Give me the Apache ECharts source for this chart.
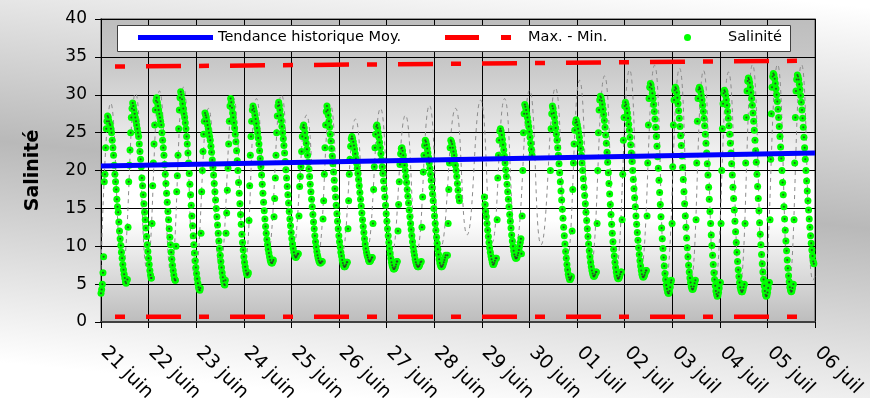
<!DOCTYPE html>
<html>
<head>
<meta charset="utf-8">
<script src="https://cdn.jsdelivr.net/npm/echarts@6/dist/echarts.min.js"></script>
<style>
  html, body { margin: 0; padding: 0; background: #ffffff; }
  #chart { width: 870px; height: 398px; }
</style>
</head>
<body>
<div id="chart"></div>
<script>
// Day ticks on the time axis (x = days since 21 June, 00:00)
const dayLabels = ['21 juin', '22 juin', '23 juin', '24 juin', '25 juin', '26 juin', '27 juin',
  '28 juin', '29 juin', '30 juin', '01 juil', '02 juil', '03 juil', '04 juil', '05 juil', '06 juil'];

// Historical mean trend
const trendDays = [0, 15];
const trendValues = [20.6, 22.3];

// Historical envelope
const envelopeDays = [0, 15];
const maxValues = [33.7, 34.5];
const minValues = [0.7, 0.7];

// Tidal reference curve: turning points (hours since 21 June 00:00, salinity)
const modelHours = [0, 4.9, 10.8, 17.4, 23.2, 29.5, 35.3, 41.6, 47.4, 54.2, 60.0, 66.8, 72.6,
  78.4, 84.2, 91.0, 96.8, 103.6, 109.4, 115.7, 121.5, 128.3, 134.1, 140.9, 146.7, 153.5, 159.3,
  165.6, 171.4, 178.8, 184.6, 191.4, 197.2, 203.5, 209.3, 216.1, 221.9, 229.1, 234.9, 241.3, 247.1,
  253.9, 259.7, 266.5, 272.3, 279.1, 284.9, 291.7, 297.5, 303.8, 309.6, 316.4, 322.2, 328.5, 334.3,
  341.1, 346.9, 353.2, 359.0, 360];
const modelValues = [7.0, 28.9, 7.0, 30.2, 7.0, 30.5, 6.5, 31.0, 6.0, 28.2, 7.0, 29.6, 8.0,
  29.5, 9.0, 30.0, 9.5, 27.3, 9.0, 28.6, 9.0, 26.8, 9.5, 28.2, 9.0, 27.3, 9.5,
  28.6, 10.0, 28.2, 11.5, 29.3, 10.5, 29.5, 10.5, 30.6, 10.2, 30.9, 8.0, 31.9, 7.5,
  32.5, 7.0, 33.3, 7.0, 33.9, 5.5, 33.5, 5.5, 33.2, 5.0, 33.0, 5.0, 34.0, 5.0,
  34.0, 5.0, 34.0, 5.5, 6.0];

// Measured salinity, one reading every 20 minutes, grouped by tide
// (start hour of each group, then its readings)
const SAMPLE_HOURS = 1 / 3;
const cycleStartHours = [0, 13.3, 25.4, 37.5, 50.1, 62.7, 74.3, 86.9, 99.5, 111.6, 124.2, 136.8,
  149.4, 161.5, 174.7, 193.3, 199.4, 212.0, 226.6, 237.2, 249.8, 262.4, 275.0, 287.6, 299.7,
  312.3, 324.4, 337.0, 349.1];
const cycleValues = [
  [3.8, 4.3, 5.0, 6.5, 8.6, 18.5, 19.5, 23.0, 25.5, 26.5, 27.2, 27.0, 26.5, 26.2, 26.0, 25.5, 25.0, 24.0, 23.0, 22.0, 20.7, 19.5, 18.5, 17.5, 16.2, 15.2, 14.5, 13.2, 12.0, 11.0, 10.1, 9.2, 8.4, 7.6, 6.9, 6.3, 5.8, 5.3, 5.1],
  [5.6, 12.5, 18.5, 20.7, 22.7, 25.0, 27.0, 28.2, 28.9, 28.5, 28.0, 27.5, 27.0, 26.5, 26.0, 25.5, 25.0, 24.5, 23.5, 22.5, 21.5, 20.5, 19.0, 18.0, 16.8, 15.6, 14.5, 13.5, 12.4, 11.3, 10.2, 9.3, 8.4, 7.6, 6.8, 6.2, 5.8],
  [5.8, 13.0, 18.0, 21.0, 23.5, 26.0, 28.0, 29.2, 29.6, 29.0, 28.5, 28.0, 27.5, 27.0, 26.5, 26.0, 25.0, 24.0, 23.0, 22.0, 20.8, 19.5, 18.3, 17.0, 15.8, 14.6, 13.5, 12.3, 11.2, 10.2, 9.2, 8.3, 7.5, 6.8, 6.2, 5.7, 5.5],
  [5.5, 10.0, 17.2, 19.3, 22.0, 25.5, 28.0, 29.6, 30.4, 30.0, 29.4, 28.8, 28.2, 27.5, 27.0, 26.3, 25.5, 24.5, 23.5, 22.3, 21.0, 19.6, 18.2, 16.8, 15.4, 14.0, 12.7, 11.4, 10.2, 9.1, 8.1, 7.2, 6.4, 5.7, 5.1, 4.6, 4.3, 4.2],
  [4.5, 11.7, 17.2, 20.0, 22.5, 24.8, 26.5, 27.6, 27.3, 27.0, 26.5, 26.0, 25.5, 25.0, 24.5, 24.0, 23.2, 22.4, 21.4, 20.4, 19.4, 18.3, 17.2, 16.1, 15.0, 13.9, 12.8, 11.7, 10.7, 9.7, 8.8, 8.0, 7.2, 6.5, 5.9, 5.4, 5.0, 4.9],
  [5.5, 11.7, 14.4, 17.4, 20.3, 23.5, 26.5, 28.5, 29.5, 29.0, 28.3, 27.6, 27.0, 26.3, 25.6, 24.8, 23.8, 22.6, 21.3, 20.0, 18.4, 17.0, 15.6, 14.2, 12.9, 11.6, 10.5, 9.5, 8.6, 7.9, 7.3, 6.8, 6.4, 6.2, 6.3],
  [6.5, 13.4, 18.0, 22.0, 24.5, 26.5, 28.0, 28.5, 28.2, 27.8, 27.3, 26.8, 26.2, 25.6, 25.0, 24.3, 23.5, 22.6, 21.6, 20.5, 19.4, 18.2, 17.0, 15.8, 14.7, 13.6, 12.6, 11.7, 10.9, 10.2, 9.6, 9.1, 8.6, 8.2, 7.9, 7.8, 7.8, 8.0],
  [8.2, 13.9, 16.3, 19.0, 22.0, 25.0, 27.2, 28.5, 29.0, 28.6, 28.0, 27.3, 26.6, 25.8, 25.0, 24.2, 23.3, 22.3, 21.2, 20.1, 19.0, 17.9, 16.8, 15.7, 14.6, 13.6, 12.7, 11.8, 11.0, 10.3, 9.7, 9.2, 8.8, 8.6, 8.5, 8.6, 8.8, 9.0],
  [9.0, 14.0, 17.9, 19.2, 20.5, 22.5, 24.5, 25.7, 26.0, 25.6, 25.0, 24.3, 23.6, 22.8, 22.0, 21.1, 20.2, 19.2, 18.2, 17.2, 16.2, 15.2, 14.2, 13.2, 12.3, 11.4, 10.6, 9.9, 9.3, 8.8, 8.4, 8.1, 7.9, 7.8, 7.8, 8.0],
  [8.0, 13.6, 16.0, 19.5, 23.0, 26.0, 27.8, 28.5, 28.0, 27.3, 26.5, 25.7, 24.8, 23.9, 22.9, 21.9, 20.9, 19.8, 18.7, 17.6, 16.5, 15.4, 14.3, 13.3, 12.3, 11.4, 10.6, 9.9, 9.2, 8.7, 8.2, 7.8, 7.5, 7.3, 7.3, 7.4, 7.6, 7.9],
  [7.9, 12.3, 16.0, 19.5, 21.5, 23.2, 24.2, 24.5, 24.2, 23.8, 23.3, 22.8, 22.2, 21.6, 21.0, 20.3, 19.6, 18.8, 18.0, 17.1, 16.2, 15.3, 14.4, 13.5, 12.6, 11.8, 11.0, 10.3, 9.7, 9.2, 8.8, 8.5, 8.2, 8.0, 8.0, 8.1, 8.3, 8.5],
  [8.5, 13.0, 17.5, 20.5, 23.0, 24.8, 25.8, 26.0, 25.6, 25.0, 24.4, 23.7, 23.0, 22.2, 21.4, 20.5, 19.6, 18.6, 17.6, 16.5, 15.4, 14.3, 13.3, 12.3, 11.4, 10.5, 9.7, 9.0, 8.4, 7.9, 7.5, 7.2, 7.0, 7.0, 7.1, 7.3, 7.6, 8.0],
  [8.0, 12.0, 15.5, 18.5, 20.8, 22.2, 22.9, 23.0, 22.6, 22.0, 21.4, 20.7, 20.0, 19.2, 18.4, 17.5, 16.6, 15.7, 14.8, 13.9, 13.0, 12.2, 11.4, 10.6, 9.9, 9.3, 8.8, 8.3, 7.9, 7.6, 7.4, 7.3, 7.3, 7.4, 7.6, 7.9],
  [8.0, 12.5, 16.5, 19.8, 22.0, 23.3, 24.0, 23.8, 23.4, 22.9, 22.3, 21.7, 21.0, 20.3, 19.5, 18.7, 17.8, 16.9, 16.0, 15.0, 14.0, 13.0, 12.1, 11.2, 10.4, 9.6, 8.9, 8.3, 7.8, 7.5, 7.3, 7.3, 7.4, 7.6, 7.9, 8.2, 8.5, 8.8],
  [8.8, 13.0, 17.5, 21.0, 23.0, 24.0, 23.8, 23.5, 23.0, 22.5, 22.0, 21.4, 20.7, 20.0, 19.2, 18.3, 17.4, 16.5, 16.0],
  [16.5, 15.5, 14.6, 13.9, 13.0, 12.1, 11.3, 10.5, 9.8, 9.2, 8.7, 8.3, 7.9, 7.6, 7.6, 7.8, 8.1, 8.4],
  [8.4, 13.5, 19.0, 22.0, 24.0, 25.2, 25.5, 25.2, 24.7, 24.1, 23.4, 22.7, 21.9, 21.0, 20.1, 19.2, 18.2, 17.2, 16.2, 15.2, 14.2, 13.3, 12.4, 11.5, 10.7, 10.0, 9.4, 8.9, 8.6, 8.4, 8.4, 8.5, 8.8, 9.1, 9.5, 10.0, 10.5, 11.0],
  [9.0, 14.0, 20.0, 25.0, 27.5, 28.7, 28.4, 28.0, 27.5, 27.0, 26.4, 25.8, 25.1, 24.4, 23.6, 22.8, 22.0],
  [20.0, 25.5, 27.5, 28.5, 28.2, 27.6, 27.0, 26.3, 25.6, 24.8, 24.0, 23.0, 22.0, 20.9, 19.7, 18.5, 17.3, 16.1, 14.9, 13.7, 12.5, 11.4, 10.3, 9.3, 8.4, 7.6, 6.9, 6.3, 5.9, 5.6, 5.6, 5.8],
  [6.0, 12.0, 17.5, 21.0, 23.5, 25.3, 26.3, 26.7, 26.4, 26.0, 25.5, 25.0, 24.4, 23.7, 22.9, 22.0, 21.0, 20.0, 18.9, 17.8, 16.7, 15.6, 14.5, 13.4, 12.3, 11.3, 10.3, 9.4, 8.6, 7.9, 7.3, 6.8, 6.4, 6.1, 6.0, 6.1, 6.3, 6.6],
  [6.6, 13.0, 20.0, 25.0, 28.0, 29.3, 29.8, 29.6, 29.2, 28.7, 28.1, 27.4, 26.6, 25.7, 24.7, 23.6, 22.4, 21.1, 19.7, 18.3, 16.9, 15.5, 14.2, 12.9, 11.7, 10.6, 9.6, 8.7, 7.9, 7.2, 6.6, 6.1, 5.8, 5.7, 5.8, 6.0, 6.3, 6.6],
  [6.6, 13.5, 19.5, 24.0, 27.0, 28.5, 29.0, 28.7, 28.2, 27.6, 26.9, 26.1, 25.3, 24.4, 23.4, 22.3, 21.2, 20.0, 18.8, 17.6, 16.4, 15.2, 14.0, 12.9, 11.8, 10.8, 9.8, 8.9, 8.1, 7.4, 6.8, 6.3, 6.0, 5.9, 6.0, 6.2, 6.5, 6.8],
  [6.8, 14.0, 21.0, 26.0, 29.5, 31.0, 31.5, 31.3, 30.8, 30.2, 29.5, 28.7, 27.8, 26.8, 25.7, 24.5, 23.2, 21.8, 20.3, 18.7, 17.1, 15.5, 13.9, 12.4, 11.0, 9.7, 8.5, 7.4, 6.4, 5.6, 4.9, 4.4, 4.0, 3.8, 3.8, 4.1, 4.6, 5.2],
  [5.5, 13.0, 20.5, 26.0, 29.3, 30.6, 31.0, 30.8, 30.3, 29.6, 28.8, 27.9, 26.9, 25.8, 24.6, 23.3, 21.9, 20.4, 18.8, 17.2, 15.6, 14.0, 12.5, 11.1, 9.8, 8.6, 7.5, 6.6, 5.8, 5.2, 4.7, 4.4, 4.3, 4.4, 4.7, 5.1],
  [5.5, 13.5, 21.0, 26.5, 29.5, 30.7, 31.0, 30.8, 30.4, 29.9, 29.3, 28.6, 27.8, 26.9, 25.9, 24.8, 23.6, 22.3, 20.9, 19.4, 17.8, 16.2, 14.6, 13.0, 11.5, 10.1, 8.8, 7.6, 6.5, 5.6, 4.8, 4.1, 3.7, 3.4, 3.5, 3.9, 4.5, 5.2],
  [5.2, 13.0, 20.0, 25.5, 28.8, 30.2, 30.6, 30.4, 29.9, 29.3, 28.6, 27.8, 26.9, 25.9, 24.8, 23.6, 22.3, 20.9, 19.4, 17.8, 16.3, 14.8, 13.3, 11.9, 10.5, 9.2, 8.0, 6.9, 6.0, 5.2, 4.6, 4.2, 4.0, 4.0, 4.2, 4.6],
  [5.0, 13.0, 21.0, 27.0, 30.5, 31.8, 32.2, 32.0, 31.6, 31.0, 30.3, 29.5, 28.6, 27.6, 26.5, 25.3, 24.0, 22.6, 21.1, 19.5, 17.9, 16.3, 14.7, 13.1, 11.6, 10.2, 8.9, 7.7, 6.6, 5.6, 4.8, 4.1, 3.6, 3.4, 3.5, 3.9, 4.5, 5.2],
  [5.2, 13.5, 21.5, 27.5, 31.0, 32.4, 32.8, 32.6, 32.1, 31.5, 30.8, 30.0, 29.1, 28.1, 27.0, 25.8, 24.5, 23.1, 21.6, 20.0, 18.4, 16.8, 15.2, 13.6, 12.1, 10.7, 9.4, 8.2, 7.1, 6.1, 5.3, 4.6, 4.2, 4.0, 4.1, 4.5],
  [5.0, 13.5, 21.0, 27.0, 30.5, 32.0, 32.6, 32.4, 32.0, 31.4, 30.7, 29.9, 29.0, 28.0, 26.9, 25.7, 24.4, 23.0, 21.5, 20.0, 18.6, 17.3, 16.0, 14.8, 13.6, 12.5, 11.4, 10.4, 9.5, 8.7, 8.0, 7.7]
];

// ---- build series data ----
const salinityPoints = [];
cycleValues.forEach((vals, i) => {
  vals.forEach((v, k) => {
    if (v !== null) salinityPoints.push([(cycleStartHours[i] + k * SAMPLE_HOURS) / 24, v]);
  });
});
const modelPoints = modelHours.map((h, i) => [h / 24, modelValues[i]]);
const trendPoints = trendDays.map((d, i) => [d, trendValues[i]]);
const maxPoints = envelopeDays.map((d, i) => [d, maxValues[i]]);
const minPoints = envelopeDays.map((d, i) => [d, minValues[i]]);

const FONT = 'DejaVu Sans';
const chart = echarts.init(document.getElementById('chart'), null, { renderer: 'canvas' });

const envelopeStyle = {
  color: '#ff0000', width: 4.5, type: [10, 21, 35, 18], dashOffset: 70, cap: 'butt'
};

chart.setOption({
  animation: false,
  graphic: [
    {
      type: 'rect', z: -10, silent: true,
      shape: { x: 0, y: 0, width: 870, height: 398 },
      style: {
        fill: new echarts.graphic.LinearGradient(457, -34, 413, 404, [
          { offset: 0, color: '#ffffff' },
          { offset: 0.5, color: '#b9b9b9' },
          { offset: 1, color: '#ffffff' }
        ], true)
      }
    },
    {
      type: 'rect', z: 11, silent: true,
      shape: { x: 117.5, y: 25.5, width: 673, height: 26 },
      style: { fill: '#ffffff', stroke: '#404040', lineWidth: 1 }
    }
  ],
  grid: {
    left: 101, right: 55, top: 19, bottom: 76,
    containLabel: false,
    outerBoundsMode: 'none',
    show: true,
    borderColor: '#7a7a7a', borderWidth: 1.5,
    backgroundColor: new echarts.graphic.LinearGradient(0, 0, 0, 1, [
      { offset: 0, color: '#bdbdbd' },
      { offset: 0.15, color: '#c8c8c8' },
      { offset: 0.55, color: '#ffffff' },
      { offset: 0.66, color: '#ffffff' },
      { offset: 1, color: '#bcbcbc' }
    ])
  },
  legend: [
    {
      data: ['Tendance historique Moy.'], left: 138, top: 30, padding: 0, z: 12,
      icon: 'rect', itemWidth: 75, itemHeight: 5,
      itemStyle: { color: '#0000ff', borderWidth: 0 },
      textStyle: { fontFamily: FONT, fontSize: 14.5, color: '#000' },
      selectedMode: false
    },
    {
      data: ['Max. - Min.'], left: 445, top: 30, padding: 0, z: 12,
      icon: 'path://M0,0H34V5H0Z M56,0H66V5H56Z', itemWidth: 66, itemHeight: 5,
      itemStyle: { color: '#ff0000', borderWidth: 0 },
      textStyle: { fontFamily: FONT, fontSize: 14.5, color: '#000', padding: [0, 0, 0, 12] },
      selectedMode: false
    },
    {
      data: ['Salinité'], left: 684, top: 30, padding: 0, z: 12,
      icon: 'circle', itemWidth: 7, itemHeight: 7,
      itemStyle: { color: '#00ff00', borderWidth: 0 },
      textStyle: { fontFamily: FONT, fontSize: 14.5, color: '#000', padding: [0, 0, 0, 32] },
      selectedMode: false
    }
  ],
  xAxis: {
    type: 'value', min: 0, max: 15, interval: 1,
    axisLine: { show: true, onZero: false, lineStyle: { color: '#404040', width: 2 } },
    axisTick: { show: true, length: 6, lineStyle: { color: '#000' } },
    splitLine: { show: true, lineStyle: { color: '#000', width: 1 } },
    axisLabel: {
      rotate: -45, margin: 25, padding: [0, 0, 0, 4],
      fontFamily: FONT, fontSize: 19, color: '#000',
      formatter: v => dayLabels[Math.round(v)] || ''
    }
  },
  yAxis: {
    type: 'value', min: 0, max: 40, interval: 5,
    name: 'Salinité', nameLocation: 'middle', nameGap: 58,
    nameTextStyle: { fontFamily: FONT, fontSize: 19, fontWeight: 'bold', color: '#000' },
    axisLine: { show: true, lineStyle: { color: '#000', width: 1 } },
    axisTick: { show: true, length: 6, lineStyle: { color: '#000' } },
    splitLine: { show: true, lineStyle: { color: '#000', width: 1 } },
    axisLabel: { margin: 14, fontFamily: FONT, fontSize: 17, color: '#000' }
  },
  series: [
    {
      name: 'courbe de marée', type: 'line', data: modelPoints, z: 2,
      smooth: 0.5, showSymbol: false, silent: true,
      lineStyle: { color: '#8c8c8c', width: 1, type: [4, 4] }
    },
    {
      name: 'Salinité', type: 'scatter', data: salinityPoints, z: 3,
      symbol: 'circle', symbolSize: 7, silent: true,
      itemStyle: { color: '#00ff00', opacity: 1 }
    },
    {
      name: 'centre', type: 'scatter', data: salinityPoints, z: 4,
      symbol: 'circle', symbolSize: 2, silent: true,
      itemStyle: { color: '#2e3a2e', opacity: 0.85 }
    },
    {
      name: 'Tendance historique Moy.', type: 'line', data: trendPoints, z: 5,
      showSymbol: false, silent: true, color: '#0000ff',
      lineStyle: { color: '#0000ff', width: 5 }
    },
    {
      name: 'Max. - Min.', type: 'line', data: maxPoints, z: 6,
      showSymbol: false, silent: true, color: '#ff0000',
      lineStyle: envelopeStyle
    },
    {
      name: 'Max. - Min.', type: 'line', data: minPoints, z: 6,
      showSymbol: false, silent: true, color: '#ff0000',
      lineStyle: envelopeStyle
    }
  ]
});
</script>
</body>
</html>
